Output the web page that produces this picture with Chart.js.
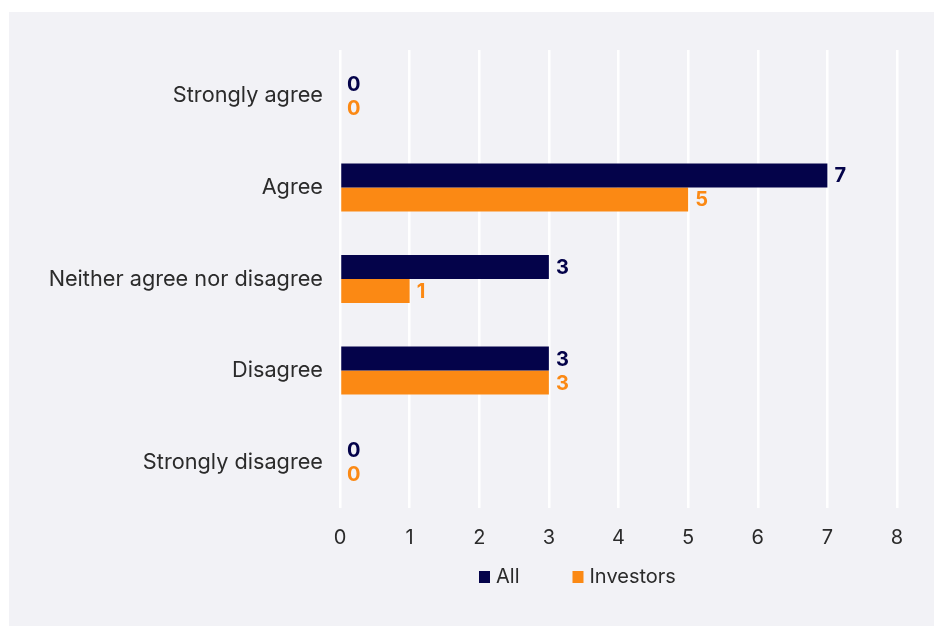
<!DOCTYPE html>
<html>
<head>
<meta charset="utf-8">
<script src="https://cdn.jsdelivr.net/npm/chart.js@4.4.1/dist/chart.umd.min.js"></script>
<style>
  html, body { margin: 0; padding: 0; background: #ffffff; }
  #panel {
    position: absolute;
    left: 9px;
    top: 12px;
    width: 925px;
    height: 614px;
    background: #f2f2f6;
  }
</style>
</head>
<body>
<div id="panel">
  <canvas id="agreementChart" width="925" height="614"></canvas>
</div>
<script>
// Survey responses per answer
const categories = ['Strongly agree', 'Agree', 'Neither agree nor disagree', 'Disagree', 'Strongly disagree'];
const allValues = [0, 7, 3, 3, 0];
const investorValues = [0, 5, 1, 3, 0];
const xTicks = [0, 1, 2, 3, 4, 5, 6, 7, 8];

const NAVY = '#04034a';
const ORANGE = '#fb8914';
const TEXT = '#2b2b2b';
const FONT = 'Inter, "Open Sans", sans-serif';

// Value labels drawn just past the end of each bar
const barValueLabels = {
    id: 'barValueLabels',
    afterDatasetsDraw(chart) {
        const ctx = chart.ctx;
        ctx.save();
        ctx.font = 'bold 20px ' + FONT;
        ctx.textAlign = 'left';
        ctx.textBaseline = 'middle';
        chart.data.datasets.forEach((ds, i) => {
            const meta = chart.getDatasetMeta(i);
            ctx.fillStyle = ds.backgroundColor;
            meta.data.forEach((bar, j) => {
                ctx.fillText(String(ds.data[j]), bar.x + 7, bar.y + 1);
            });
        });
        ctx.restore();
    }
};

// Legend under the axis, a bit left of the plot centre
const bottomLegend = {
    id: 'bottomLegend',
    afterDraw(chart) {
        const ctx = chart.ctx;
        const y = chart.chartArea.bottom + 69;
        let x = 470;
        ctx.save();
        ctx.font = '20px ' + FONT;
        ctx.textAlign = 'left';
        ctx.textBaseline = 'middle';
        chart.data.datasets.forEach((ds) => {
            ctx.fillStyle = ds.backgroundColor;
            ctx.fillRect(x, y - 6, 11, 12);
            ctx.fillStyle = TEXT;
            ctx.fillText(ds.label, x + 17, y);
            x += 17 + ctx.measureText(ds.label).width + 53;
        });
        ctx.restore();
    }
};

const ctx = document.getElementById('agreementChart').getContext('2d');
const chart = new Chart(ctx, {
    type: 'bar',
    data: {
        labels: categories,
        datasets: [
            { label: 'All', data: allValues, backgroundColor: NAVY, borderWidth: 0 },
            { label: 'Investors', data: investorValues, backgroundColor: ORANGE, borderWidth: 0 }
        ]
    },
    options: {
        indexAxis: 'y',
        responsive: false,
        animation: false,
        categoryPercentage: 0.524,
        barPercentage: 1,
        layout: {
            padding: { top: 38, right: 37, bottom: 58, left: 0 }
        },
        scales: {
            x: {
                min: 0,
                max: 8,
                afterBuildTicks: (scale) => {
                    scale.ticks = xTicks.map(v => ({ value: v }));
                },
                border: { display: false },
                grid: { color: '#ffffff', lineWidth: 2.5, drawTicks: false },
                ticks: {
                    color: TEXT,
                    padding: 18,
                    font: { family: FONT, size: 20 }
                }
            },
            y: {
                afterFit: (scale) => { scale.width = 331; },
                border: { display: false },
                grid: { display: false, drawTicks: false },
                ticks: {
                    color: TEXT,
                    padding: 17,
                    font: { family: FONT, size: 21.7 }
                }
            }
        },
        plugins: {
            legend: { display: false },
            tooltip: { enabled: false }
        }
    },
    plugins: [barValueLabels, bottomLegend]
});
</script>
</body>
</html>
